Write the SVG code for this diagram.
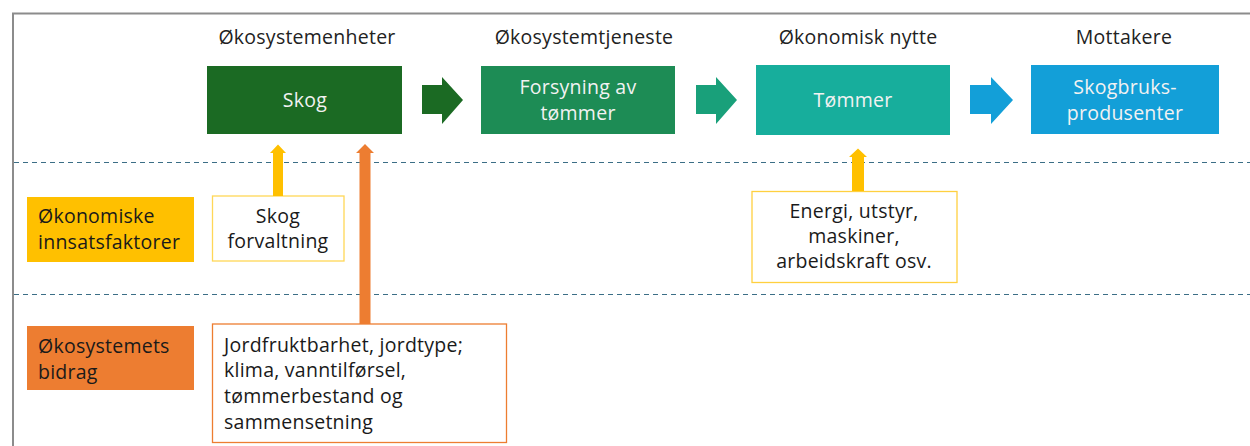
<svg xmlns="http://www.w3.org/2000/svg" width="1250" height="446" viewBox="0 0 1250 446">
  <style>
    text { font-family: "Open Sans", "Liberation Sans", sans-serif; font-size: 19.5px; letter-spacing: 0.25px; }
    .head { fill: #222; text-anchor: middle; }
    .wt { fill: #f2f2f2; text-anchor: middle; }
    .dk { fill: #1a1a1a; }
    .mid { text-anchor: middle; }
    .sep { stroke: #3b6e86; stroke-width: 1.2; stroke-dasharray: 5 4; fill: none; }
  </style>

  <rect width="1250" height="446" fill="#ffffff"/>
  <!-- outer frame -->
  <path d="M1252 13.5 H13 V448" fill="none" stroke="#8c8c8c" stroke-width="2"/>

  <!-- column headings -->
  <g id="headings">
    <text class="head" x="307" y="44">Økosystemenheter</text>
    <text class="head" x="584" y="44">Økosystemtjeneste</text>
    <text class="head" x="858" y="44">Økonomisk nytte</text>
    <text class="head" x="1124" y="44">Mottakere</text>
  </g>

  <!-- row separators -->
  <line class="sep" x1="14" y1="162.5" x2="1250" y2="162.5"/>
  <line class="sep" x1="14" y1="294.5" x2="1250" y2="294.5"/>

  <g id="skog">
    <rect x="207" y="66" width="195" height="68" fill="#1b6a23"/>
    <text class="wt" x="305" y="107">Skog</text>
  </g>
  <g id="forsyning">
    <rect x="481" y="66" width="194" height="68" fill="#1d8c55"/>
    <text class="wt" x="578" y="94">Forsyning av</text>
    <text class="wt" x="578" y="119.5">tømmer</text>
  </g>
  <g id="tommer">
    <rect x="756" y="65" width="194" height="70" fill="#17ae9c"/>
    <text class="wt" x="853" y="107">Tømmer</text>
  </g>
  <g id="mottakere">
    <rect x="1031" y="65" width="188" height="69" fill="#139fd8"/>
    <text class="wt" x="1125" y="94">Skogbruks-</text>
    <text class="wt" x="1125" y="119.5">produsenter</text>
  </g>

  <g id="label-innsats">
    <rect x="27" y="197" width="167" height="65" fill="#ffc000"/>
    <text class="dk" x="38" y="223">Økonomiske</text>
    <text class="dk" x="38" y="249">innsatsfaktorer</text>
  </g>
  <g id="skogforvaltning">
    <rect x="212.5" y="196" width="131.5" height="65" fill="#ffffff" stroke="#ffd757" stroke-width="1.3"/>
    <text class="dk mid" x="278" y="223">Skog</text>
    <text class="dk mid" x="278" y="248">forvaltning</text>
  </g>
  <g id="energi">
    <rect x="752" y="191.5" width="205" height="91" fill="#ffffff" stroke="#ffd03f" stroke-width="1.3"/>
    <text class="dk mid" x="854" y="218">Energi, utstyr,</text>
    <text class="dk mid" x="854" y="243">maskiner,</text>
    <text class="dk mid" x="854" y="268">arbeidskraft osv.</text>
  </g>
  <g id="label-bidrag">
    <rect x="27" y="326" width="167" height="64" fill="#ed7d31"/>
    <text class="dk" x="38" y="353">Økosystemets</text>
    <text class="dk" x="38" y="379">bidrag</text>
  </g>
  <g id="okosystembidrag">
    <rect x="212.5" y="324" width="294" height="118.5" fill="#ffffff" stroke="#ed7d31" stroke-width="1.3"/>
    <text class="dk" x="224" y="352">Jordfruktbarhet, jordtype;</text>
    <text class="dk" x="224" y="377">klima, vanntilførsel,</text>
    <text class="dk" x="224" y="403">tømmerbestand og</text>
    <text class="dk" x="224" y="429">sammensetning</text>
  </g>

  <g id="connectors">
    <!-- block arrows between the chain boxes -->
    <path d="M422 85 H442 V77 L463 100 L442 124 V114 H422 Z" fill="#1b6a23"/>
    <path d="M696 85 H716 V77 L737 100 L716 124 V114 H696 Z" fill="#19a07a"/>
    <path d="M970 85 H991 V77 L1013 100 L991 124 V114 H970 Z" fill="#139fd8"/>
    <!-- inputs feeding upward -->
    <path d="M273 196 V153 H270 L278 144.5 L286 153 H283 V196 Z" fill="#ffc000"/>
    <path d="M359.5 324 V153 H356 L365 144 L374 153 H370.5 V324 Z" fill="#ed7d31"/>
    <path d="M852 191 V157 H849 L858 148.5 L867 157 H864 V191 Z" fill="#ffc000"/>
  </g>
</svg>
